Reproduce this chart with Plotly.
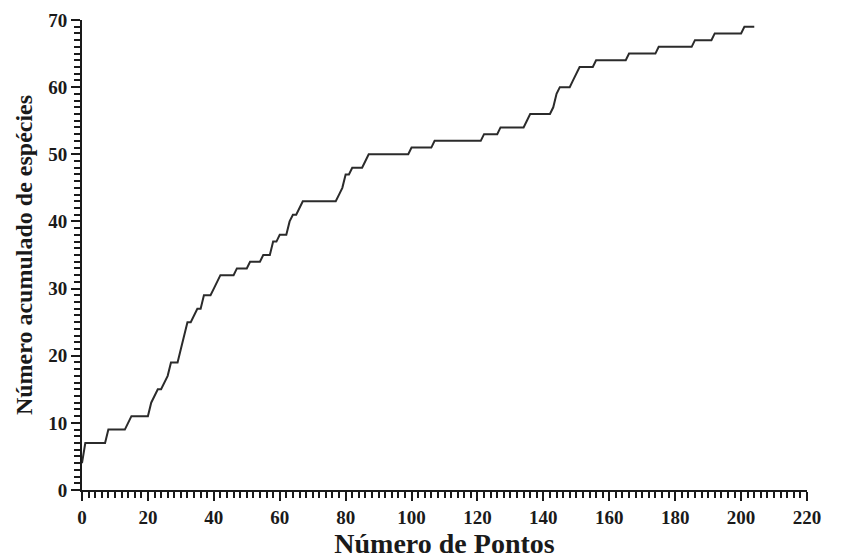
import plotly.graph_objects as go

# Cumulative number of species recorded after each sampling point
especies = [
    4, 7, 7, 7, 7, 7, 7, 7, 9, 9,
    9, 9, 9, 9, 10, 11, 11, 11, 11, 11,
    11, 13, 14, 15, 15, 16, 17, 19, 19, 19,
    21, 23, 25, 25, 26, 27, 27, 29, 29, 29,
    30, 31, 32, 32, 32, 32, 32, 33, 33, 33,
    33, 34, 34, 34, 34, 35, 35, 35, 37, 37,
    38, 38, 38, 40, 41, 41, 42, 43, 43, 43,
    43, 43, 43, 43, 43, 43, 43, 43, 44, 45,
    47, 47, 48, 48, 48, 48, 49, 50, 50, 50,
    50, 50, 50, 50, 50, 50, 50, 50, 50, 50,
    51, 51, 51, 51, 51, 51, 51, 52, 52, 52,
    52, 52, 52, 52, 52, 52, 52, 52, 52, 52,
    52, 52, 53, 53, 53, 53, 53, 54, 54, 54,
    54, 54, 54, 54, 54, 55, 56, 56, 56, 56,
    56, 56, 56, 57, 59, 60, 60, 60, 60, 61,
    62, 63, 63, 63, 63, 63, 64, 64, 64, 64,
    64, 64, 64, 64, 64, 64, 65, 65, 65, 65,
    65, 65, 65, 65, 65, 66, 66, 66, 66, 66,
    66, 66, 66, 66, 66, 66, 67, 67, 67, 67,
    67, 67, 68, 68, 68, 68, 68, 68, 68, 68,
    68, 69, 69, 69, 69,
]
pontos = list(range(len(especies)))

X_MAX, X_STEP, X_MINOR = 220, 20, 2
Y_MAX, Y_STEP, Y_MINOR = 70, 10, 1

FONT = "Liberation Serif"
INK = "#1a1a1a"

fig = go.Figure(
    go.Scatter(
        x=pontos,
        y=especies,
        mode="lines",
        line=dict(color="#2b2b2b", width=2),
        hoverinfo="x+y",
    )
)

axis_common = dict(
    showline=True,
    linecolor=INK,
    linewidth=2,
    showgrid=False,
    zeroline=False,
    ticks="outside",
    ticklen=9,
    tickwidth=2,
    tickcolor=INK,
    tickmode="linear",
    tick0=0,
    automargin=False,
    tickfont=dict(family=FONT, size=19, color=INK, weight="bold"),
    minor=dict(ticks="outside", ticklen=6, tickwidth=2, tickcolor=INK,
               showgrid=False),
)

fig.update_layout(
    width=841,
    height=559,
    margin=dict(l=82, r=34, t=20, b=69),
    paper_bgcolor="white",
    plot_bgcolor="white",
    showlegend=False,
    xaxis=dict(
        range=[0, X_MAX],
        dtick=X_STEP,
        title=dict(text="Número de Pontos", standoff=11,
                   font=dict(family=FONT, size=28, color=INK, weight="bold")),
        **axis_common,
    ),
    yaxis=dict(
        range=[0, Y_MAX],
        dtick=Y_STEP,
        title=dict(text="Número acumulado de espécies", standoff=9,
                   font=dict(family=FONT, size=24, color=INK, weight="bold")),
        **axis_common,
    ),
)
fig.update_xaxes(minor_dtick=X_MINOR, minor_tick0=0)
fig.update_yaxes(minor_dtick=Y_MINOR, minor_tick0=0)

fig.write_html("out.html")
